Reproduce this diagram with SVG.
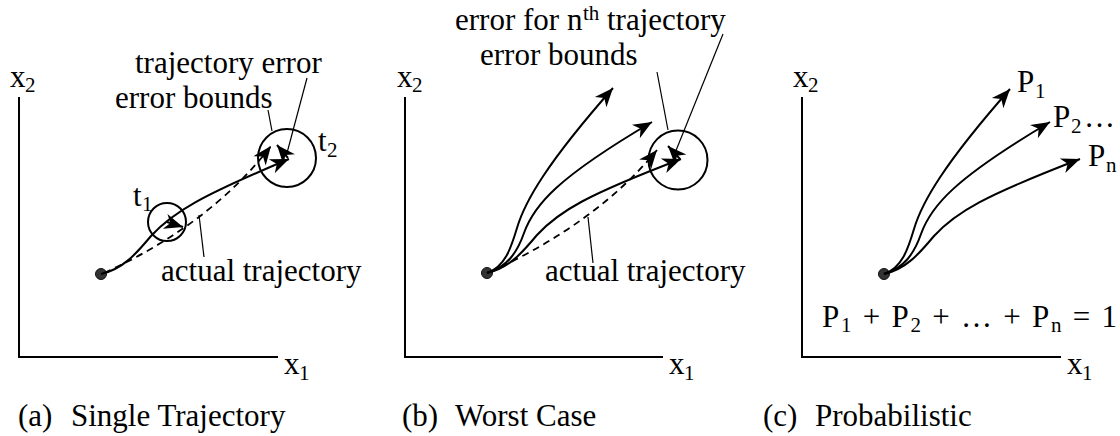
<svg xmlns="http://www.w3.org/2000/svg" width="1120" height="436" viewBox="0 0 1120 436" font-family="'Liberation Serif', 'Times New Roman', serif">
<defs>
<marker id="ah" markerUnits="userSpaceOnUse" markerWidth="22" markerHeight="22" viewBox="-18 -9 20 18" refX="0" refY="0" orient="auto">
<path d="M0,0 L-17,-7 L-12,0 L-17,7 Z" fill="#000"/>
</marker>
<style>
text{font-family:"Liberation Serif","Times New Roman",serif;font-size:31px;fill:#000}
.sub{font-size:21px}
.axis{stroke:#000;stroke-width:2;fill:none}
.traj{stroke:#000;stroke-width:2;fill:none;marker-end:url(#ah)}
.dash{stroke:#000;stroke-width:1.8;fill:none;stroke-dasharray:7 5;marker-end:url(#ah)}
.lead{stroke:#000;stroke-width:1.2;fill:none}
.bound{stroke:#000;stroke-width:2;fill:none}
.dot{fill:#333;stroke:#111;stroke-width:1}
</style>
</defs>
<rect width="1120" height="436" fill="#fff"/>

<g id="panel-a">
<g id="axes-a">
<path class="axis" d="M19,97 V357 H278"/>
<text x="10" y="87">x</text><text class="sub" x="25" y="92">2</text>
<text x="284" y="374">x</text><text class="sub" x="299" y="380">1</text>
</g>
<g id="bound-t1"><circle class="bound" cx="167" cy="222" r="19"/><text x="133" y="206">t</text><text class="sub" x="142" y="211">1</text></g>
<g id="bound-t2"><circle class="bound" cx="287" cy="158" r="29"/><text x="318" y="151">t</text><text class="sub" x="327" y="157">2</text></g>
<g id="start-a"><circle class="dot" cx="101" cy="274" r="5.5"/></g>
<g id="connectors-a">
<path class="traj" d="M101,274 C123,269 136,254 151,236 C173,212 201,196 289,159"/>
<path class="dash" d="M104,273 Q211,224 271,146"/>
<path class="traj" d="M167,222 L183,227"/>
<path class="traj" d="M288,158 L277,145"/>
<path class="lead" d="M307,78 L287,153"/>
<path class="lead" d="M268,110 L272,131"/>
<path class="lead" d="M199,215 L204,257"/>
</g>
<text x="135" y="73">trajectory error</text>
<text x="115" y="108">error bounds</text>
<text x="161" y="281">actual trajectory</text>
<text x="18" y="426">(a)</text><text x="71" y="426">Single Trajectory</text>
</g>

<g id="panel-b">
<g id="axes-b">
<path class="axis" d="M405,97 V357 H663"/>
<text x="397" y="87">x</text><text class="sub" x="412" y="92">2</text>
<text x="669" y="374">x</text><text class="sub" x="684" y="380">1</text>
</g>
<g id="bound-b"><circle class="bound" cx="678" cy="160" r="29.5"/></g>
<g id="start-b"><circle class="dot" cx="487" cy="273" r="5.5"/></g>
<g id="connectors-b">
<path class="traj" d="M487,273 C505,267 511,248 517,228 C525,201 547,163 613,88"/>
<path class="traj" d="M487,273 C507,267 517,253 524,233 C534,205 557,178 652,122"/>
<path class="traj" d="M487,273 C509,268 522,253 537,235 C559,211 587,195 681,159"/>
<path class="dash" d="M490,272 Q597,223 657,150"/>
<path class="traj" d="M680,159 L668,146"/>
<path class="lead" d="M723,34 L675,153"/>
<path class="lead" d="M657,72 L668,130"/>
<path class="lead" d="M588,217 L593,263"/>
</g>
<text x="455" y="30">error for n</text><text class="sub" x="583" y="20">th</text><text x="607" y="30">trajectory</text>
<text x="480" y="65">error bounds</text>
<text x="545" y="281">actual trajectory</text>
<text x="402" y="426">(b)</text><text x="455" y="426">Worst Case</text>
</g>

<g id="panel-c">
<g id="axes-c">
<path class="axis" d="M802,97 V357 H1061"/>
<text x="793" y="87">x</text><text class="sub" x="808" y="92">2</text>
<text x="1067" y="374">x</text><text class="sub" x="1082" y="380">1</text>
</g>
<g id="start-c"><circle class="dot" cx="884" cy="274" r="5.5"/></g>
<g id="connectors-c">
<path class="traj" d="M884,274 C902,268 908,249 914,229 C922,202 944,164 1010,89"/>
<path class="traj" d="M884,274 C904,268 914,254 921,234 C931,206 954,179 1050,122"/>
<path class="traj" d="M884,274 C906,269 919,254 934,236 C956,212 984,196 1080,159"/>
</g>
<text x="1017" y="92">P</text><text class="sub" x="1035" y="98">1</text>
<text x="1053" y="127">P</text><text class="sub" x="1071" y="133">2</text><text x="1084" y="127">…</text>
<text x="1088" y="166">P</text><text class="sub" x="1106" y="172">n</text>
<text x="822" y="327" textLength="295" lengthAdjust="spacing">P<tspan class="sub" dy="5">1</tspan><tspan dy="-5"> + P</tspan><tspan class="sub" dy="5">2</tspan><tspan dy="-5"> + … + P</tspan><tspan class="sub" dy="5">n</tspan><tspan dy="-5"> = 1</tspan></text>
<text x="763" y="426">(c)</text><text x="815" y="426">Probabilistic</text>
</g>
</svg>
